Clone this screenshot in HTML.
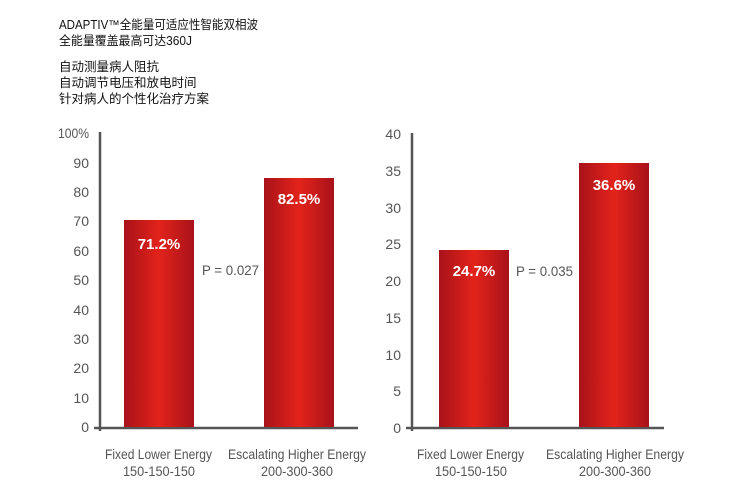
<!DOCTYPE html>
<html><head><meta charset="utf-8"><style>
body{margin:0;background:#fff;width:750px;height:495px;overflow:hidden}
svg{display:block}
.t{font-family:"Liberation Sans","Noto Sans CJK SC",sans-serif;font-size:12.5px;fill:#111}
.ax{font-family:"Liberation Sans",sans-serif;font-size:14px;fill:#555}
.v{font-family:"Liberation Sans",sans-serif;font-size:15px;font-weight:bold;fill:#fff}
.p{font-family:"Liberation Sans",sans-serif;font-size:14px;fill:#555}
.c{font-family:"Liberation Sans",sans-serif;font-size:14px;fill:#555}
</style></head><body>
<svg width="750" height="495" xmlns="http://www.w3.org/2000/svg">
<defs><linearGradient id="g" x1="0" x2="1" y1="0" y2="0">
<stop offset="0" stop-color="#a8121a"/><stop offset="0.5" stop-color="#e3231b"/><stop offset="1" stop-color="#a8121a"/></linearGradient></defs>
<text class="t" x="59" y="29" textLength="199" lengthAdjust="spacingAndGlyphs">ADAPTIV™全能量可适应性智能双相波</text>
<text class="t" x="59" y="45" textLength="133" lengthAdjust="spacingAndGlyphs">全能量覆盖最高可达360J</text>
<text class="t" x="59" y="71">自动测量病人阻抗</text>
<text class="t" x="59" y="87">自动调节电压和放电时间</text>
<text class="t" x="59" y="103">针对病人的个性化治疗方案</text>

<g>
<line x1="100" y1="132" x2="100" y2="431" stroke="#555" stroke-width="2.5"/>
<line x1="94" y1="428" x2="358" y2="428" stroke="#555" stroke-width="2.5"/>
<g class="ax" text-anchor="end">
<text x="89" y="138" textLength="31" lengthAdjust="spacingAndGlyphs">100%</text><text x="89" y="168">90</text><text x="89" y="197">80</text><text x="89" y="226">70</text><text x="89" y="256">60</text><text x="89" y="285">50</text><text x="89" y="315">40</text><text x="89" y="344">30</text><text x="89" y="373">20</text><text x="89" y="403">10</text><text x="89" y="432">0</text>
</g>
<rect x="124" y="220" width="70" height="207" fill="url(#g)"/>
<rect x="264" y="178" width="70" height="249" fill="url(#g)"/>
<text class="v" x="159" y="249" text-anchor="middle">71.2%</text>
<text class="v" x="299" y="204" text-anchor="middle">82.5%</text>
<text class="p" x="202" y="275" textLength="57" lengthAdjust="spacingAndGlyphs">P = 0.027</text>
<text class="c" x="105" y="459" textLength="107" lengthAdjust="spacingAndGlyphs">Fixed Lower Energy</text>
<text class="c" x="123" y="476" textLength="72" lengthAdjust="spacingAndGlyphs">150-150-150</text>
<text class="c" x="228" y="459" textLength="138" lengthAdjust="spacingAndGlyphs">Escalating Higher Energy</text>
<text class="c" x="261" y="476" textLength="72" lengthAdjust="spacingAndGlyphs">200-300-360</text>
</g>

<g>
<line x1="412" y1="133" x2="412" y2="431" stroke="#555" stroke-width="2.5"/>
<line x1="406" y1="428" x2="664" y2="428" stroke="#555" stroke-width="2.5"/>
<g class="ax" text-anchor="end">
<text x="401" y="139">40</text><text x="401" y="176">35</text><text x="401" y="213">30</text><text x="401" y="249">25</text><text x="401" y="286">20</text><text x="401" y="323">15</text><text x="401" y="360">10</text><text x="401" y="396">5</text><text x="401" y="433">0</text>
</g>
<rect x="439" y="250" width="70" height="177" fill="url(#g)"/>
<rect x="579" y="163" width="70" height="264" fill="url(#g)"/>
<text class="v" x="474" y="276" text-anchor="middle">24.7%</text>
<text class="v" x="614" y="190" text-anchor="middle">36.6%</text>
<text class="p" x="516" y="276" textLength="57" lengthAdjust="spacingAndGlyphs">P = 0.035</text>
<text class="c" x="417" y="459" textLength="107" lengthAdjust="spacingAndGlyphs">Fixed Lower Energy</text>
<text class="c" x="435" y="476" textLength="72" lengthAdjust="spacingAndGlyphs">150-150-150</text>
<text class="c" x="546" y="459" textLength="138" lengthAdjust="spacingAndGlyphs">Escalating Higher Energy</text>
<text class="c" x="579" y="476" textLength="72" lengthAdjust="spacingAndGlyphs">200-300-360</text>
</g>
</svg>
</body></html>
